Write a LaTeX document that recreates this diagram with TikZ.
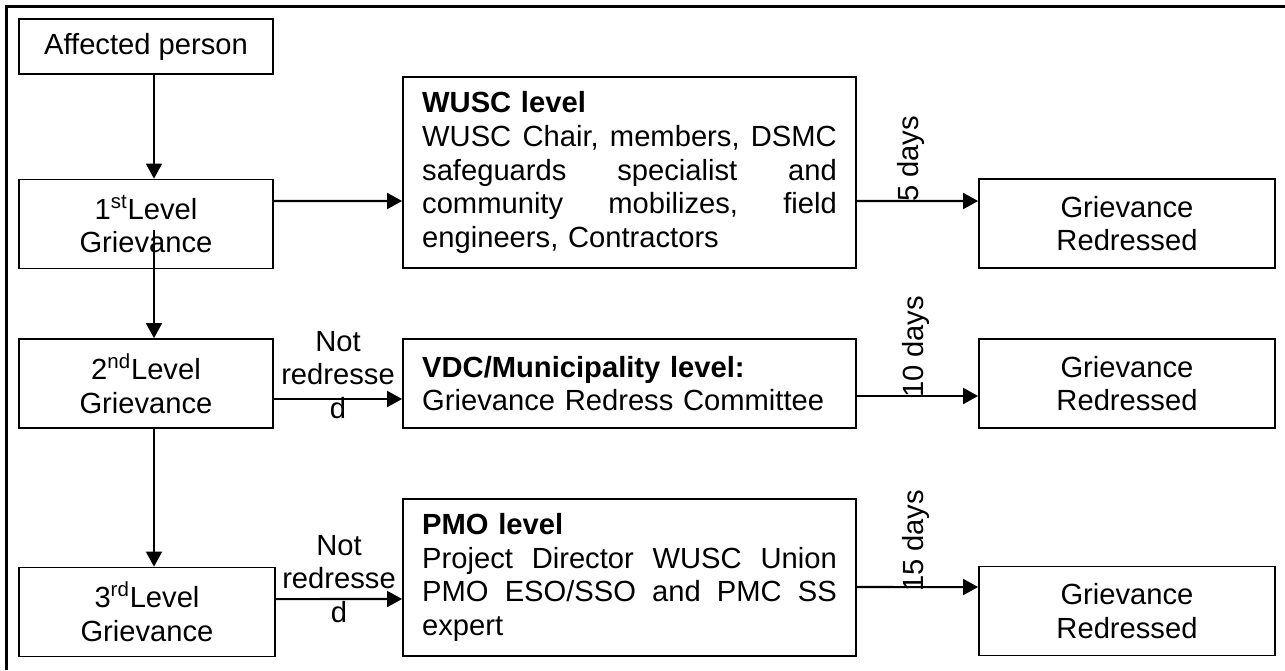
\documentclass[tikz,border=0pt]{standalone}
\usepackage{fontspec}
\setmainfont{Liberation Sans}
\usetikzlibrary{arrows.meta}

\begin{document}
\begin{tikzpicture}[x=0.02cm, y=-0.02cm,
  every node/.style={font=\fontsize{16.6}{19.2}\selectfont},
  box/.style={draw, line width=1pt, align=center, inner sep=0pt},
  levelbox/.style={box, minimum width=5.08cm, minimum height=1.78cm},
  redbox/.style={box, minimum width=5.92cm, minimum height=1.78cm},
  bodybox/.style={draw, line width=1pt, text width=236pt, align=left,
    inner xsep=10.9pt, inner ysep=0pt, minimum height=#1},
  arr/.style={-{Triangle[length=8.5pt, width=9pt]}, line width=1.15pt},
  note/.style={align=center, inner sep=0pt},
  days/.style={rotate=90, anchor=west, inner sep=0pt}]

\useasboundingbox (0,0) rectangle (1285,670);
\draw[line width=1.6pt] (6.5,670) -- (6.5,6.5) -- (1285,6.5);

\node[levelbox, minimum height=1.1cm] (aff) at (146,46.5) {Affected person};
\node[levelbox] (lvl1) at (146,224) {1\textsuperscript{st}Level\\Grievance};
\node[levelbox] (lvl2) at (146,383.5) {2\textsuperscript{nd}Level\\Grievance};
\node[levelbox, minimum width=5.12cm] (lvl3) at (147,612) {3\textsuperscript{rd}Level\\Grievance};

\node[bodybox=3.82cm] (wusc) at (629.5,172.5) {\textbf{WUSC level}\\
  WUSC\hfill Chair,\hfill members,\hfill DSMC\\
  safeguards\hfill specialist\hfill and\\
  community\hfill mobilizes,\hfill field\\
  engineers, Contractors};
\node[bodybox=1.78cm] (vdc) at (629.5,383.5) {\textbf{VDC/Municipality level:}\\
  Grievance Redress Committee};
\node[bodybox=3.14cm] (pmo) at (629.5,577.5) {\textbf{PMO level}\\
  Project\hfill Director\hfill WUSC\hfill Union\\
  PMO\hfill ESO/SSO\hfill and\hfill PMC\hfill SS\\
  expert};

\node[redbox] (red1) at (1127,223.5) {Grievance\\Redressed};
\node[redbox] (red2) at (1127,383.5) {Grievance\\Redressed};
\node[redbox] (red3) at (1127,611) {Grievance\\Redressed};

\draw[arr] ([xshift=0.16cm]aff.south) -- ([xshift=0.16cm]lvl1.north);
\draw[arr] ([xshift=0.16cm,yshift=-0.12cm]lvl1.center) -- ([xshift=0.16cm]lvl2.north);
\draw[arr] ([xshift=0.16cm]lvl2.south) -- ([xshift=0.14cm]lvl3.north);

\draw[arr] ([yshift=0.46cm]lvl1.east) -- ([yshift=-0.57cm]wusc.west);
\draw[arr] ([yshift=-0.31cm]lvl2.east) -- node[note, yshift=0.48cm] {Not\\redresse\\d} ([yshift=-0.31cm]vdc.west);
\draw[arr] ([yshift=0.26cm]lvl3.east) -- node[note, yshift=0.40cm] {Not\\redresse\\d} ([yshift=-0.43cm]pmo.west);

\draw[arr] ([yshift=-0.57cm]wusc.east) -- node[pos=0.45, yshift=-0.04cm, days] {5 days} ([yshift=0.45cm]red1.west);
\draw[arr] ([yshift=-0.25cm]vdc.east) -- node[pos=0.49, yshift=-0.06cm, days] {10 days} ([yshift=-0.25cm]red2.west);
\draw[arr] ([yshift=-0.19cm]pmo.east) -- node[pos=0.49, yshift=-0.12cm, days] {15 days} ([yshift=0.48cm]red3.west);
\end{tikzpicture}
\end{document}
